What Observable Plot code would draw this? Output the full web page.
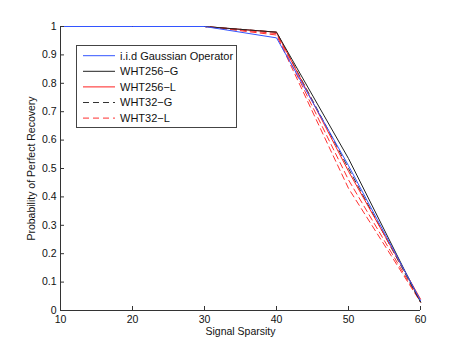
<!DOCTYPE html>
<html>
<head>
<meta charset="utf-8">
<script src="https://cdn.jsdelivr.net/npm/d3@7"></script>
<script src="https://cdn.jsdelivr.net/npm/@observablehq/plot@0.6"></script>
<style>
  body { margin: 0; background: #fff; }
  #wrap { position: relative; width: 463px; height: 348px; }
  #wrap svg { font-family: "Liberation Sans", Arial, sans-serif; }
</style>
</head>
<body>
<div id="wrap"></div>
<script>
const sparsity = [10, 20, 30, 40, 50, 60];
const gaussian = [1, 1, 1, 0.96, 0.51, 0.035];
const wht256G  = [1, 1, 1, 0.98, 0.535, 0.03];
const wht256L  = [1, 1, 1, 0.98, 0.49, 0.04];
const wht32G   = [1, 1, 1, 0.98, 0.50, 0.03];
const wht32L   = [1, 1, 1, 0.975, 0.46, 0.03];
const wht32Lb  = [1, 1, 1, 0.97, 0.43, 0.03];
const xTicks = [10, 20, 30, 40, 50, 60];
const yTicks = [0, 0.1, 0.2, 0.3, 0.4, 0.5, 0.6, 0.7, 0.8, 0.9, 1];

const series = [
  {name: "i.i.d Gaussian Operator", values: gaussian, color: "#3355ff", dash: null, legend: true},
  {name: "WHT256\u2212G", values: wht256G, color: "#222222", dash: null, legend: true},
  {name: "WHT256\u2212L", values: wht256L, color: "#ff2020", dash: null, legend: true},
  {name: "WHT32\u2212G", values: wht32G, color: "#333333", dash: "6,4", legend: true},
  {name: "WHT32\u2212L", values: wht32L, color: "#ff3030", dash: "6,4", legend: true},
  {name: "WHT32\u2212L b", values: wht32Lb, color: "#ff3030", dash: "6,4", legend: false}
];

const rows = series.map(s => s.values.map((v, i) => ({x: sparsity[i], y: v, s: s.name})));

const marks = [];
for (let k = series.length - 1; k >= 0; k--) {
  const s = series[k];
  marks.push(Plot.line(rows[k], {x: "x", y: "y", stroke: s.color, strokeWidth: 1, strokeDasharray: s.dash || undefined}));
}

const chart = Plot.plot({
  width: 463,
  height: 348,
  marginLeft: 60,
  marginRight: 43,
  marginTop: 26,
  marginBottom: 38,
  style: {fontFamily: "Liberation Sans, Arial, sans-serif", fontSize: "10px", color: "#222"},
  x: {domain: [10, 60]},
  y: {domain: [0, 1]},
  marks: [
    ...marks,
    Plot.ruleY([0], {stroke: "#333"}),
    Plot.ruleX([10], {stroke: "#333"}),
    Plot.axisX(xTicks, {tickSize: -4, tickPadding: 9, label: null, stroke: "#333", fill: "#111", fontSize: 10.5}),
    Plot.axisY(yTicks, {tickSize: -4, tickPadding: 8, label: null, stroke: "#333", fill: "#111", fontSize: 10.5, tickFormat: d => String(d)}),
    Plot.text(["Signal Sparsity"], {frameAnchor: "bottom", dy: 24, fontSize: 10.5, fill: "#111"}),
    Plot.text(["Probability of Perfect Recovery"], {frameAnchor: "left", textAnchor: "middle", dx: -29, rotate: -90, fontSize: 10.5, fill: "#111"})
  ]
});
document.getElementById("wrap").appendChild(chart);

// legend overlay
const leg = d3.select("#wrap").append("svg")
  .attr("width", 463).attr("height", 348)
  .style("position", "absolute").style("left", "0px").style("top", "0px")
  .style("pointer-events", "none");
const lx = 76.5, ly = 45.5, lw = 160, lh = 82;
leg.append("rect").attr("x", lx).attr("y", ly).attr("width", lw).attr("height", lh)
  .attr("fill", "#fff").attr("stroke", "#444").attr("stroke-width", 1);
const items = series.filter(s => s.legend);
items.forEach((s, i) => {
  const cy = 55.7 + i * 15.6;
  leg.append("line").attr("x1", 83).attr("x2", 115).attr("y1", cy).attr("y2", cy)
    .attr("stroke", s.color).attr("stroke-width", 1)
    .attr("stroke-dasharray", s.dash);
  leg.append("text").attr("x", 120).attr("y", cy).attr("dy", "0.35em")
    .attr("font-size", 11).attr("fill", "#111").text(s.name);
});
</script>
</body>
</html>
